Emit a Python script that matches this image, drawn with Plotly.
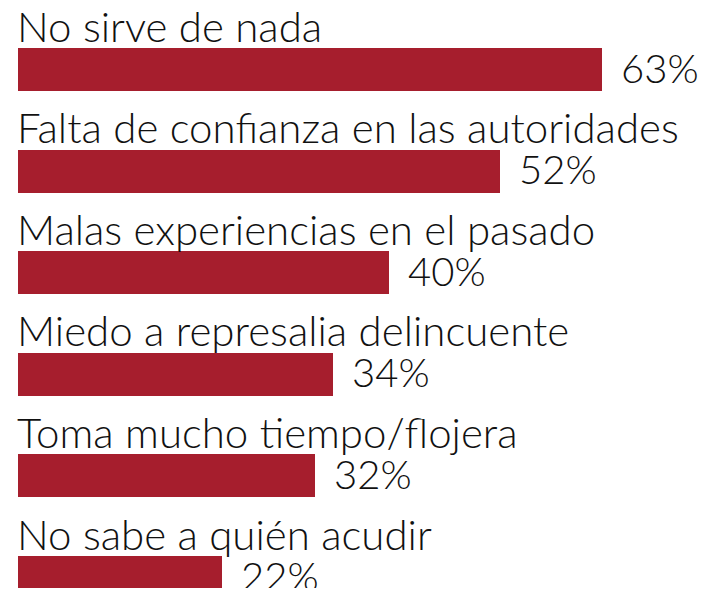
import plotly.graph_objects as go

categories = [
    "No sirve de nada",
    "Falta de confianza en las autoridades",
    "Malas experiencias en el pasado",
    "Miedo a represalia delincuente",
    "Toma mucho tiempo/flojera",
    "No sabe a quién acudir",
]
values = [63, 52, 40, 34, 32, 22]
value_labels = [f"{v}%" for v in values]

BAR_COLOR = "#A61E2D"
TEXT_COLOR = "#111111"
FONT = "Lato"

# the page body has an 8px margin; the figure sits at (8, 8)
OFF = 8
W, H = 690, 580
px_per_unit = 584 / 63.0
x0_px = 18 - OFF
xr = [-x0_px / px_per_unit, (W - x0_px) / px_per_unit]

row_px = 101.6
first_center = 69.5 - OFF
yr = [(H - first_center) / row_px, -first_center / row_px]

ypos = list(range(len(categories)))

fig = go.Figure(
    go.Bar(
        x=values,
        y=ypos,
        orientation="h",
        width=43 / row_px,
        marker=dict(color=BAR_COLOR, line=dict(width=0)),
        hoverinfo="skip",
    )
)

annotations = []
for i, (cat, v, lab) in enumerate(zip(categories, values, value_labels)):
    annotations.append(dict(
        x=0, y=i, xref="x", yref="y", text=cat, showarrow=False,
        xanchor="left", yanchor="middle", yshift=44, xshift=-3,
        font=dict(family=FONT, size=42, color=TEXT_COLOR, weight=300),
    ))
    annotations.append(dict(
        x=v, y=i, xref="x", yref="y", text=lab, showarrow=False,
        xanchor="left", yanchor="middle", xshift=17, yshift=2,
        font=dict(family=FONT, size=40, color=TEXT_COLOR, weight=300),
    ))

fig.update_layout(
    width=W, height=H,
    margin=dict(l=0, r=0, t=0, b=0),
    paper_bgcolor="white", plot_bgcolor="white",
    xaxis=dict(range=xr, visible=False, fixedrange=True),
    yaxis=dict(range=yr, visible=False, fixedrange=True),
    showlegend=False,
    annotations=annotations,
    bargap=0,
)

fig.write_html("out.html")
